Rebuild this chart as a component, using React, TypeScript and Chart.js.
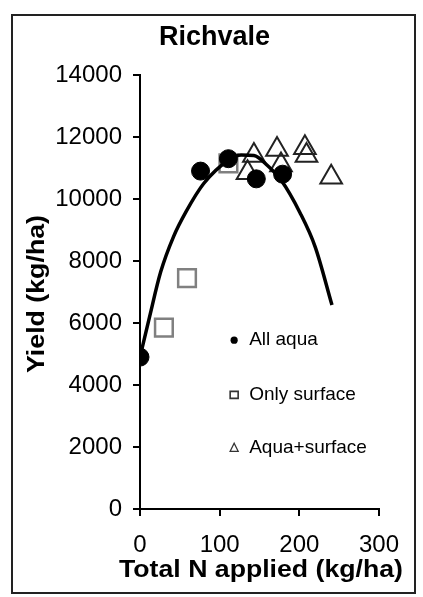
import React, { useEffect, useRef } from 'react';
import { Chart, registerables } from 'chart.js';

Chart.register(...registerables);

// ---- Data ----
const CHART_TITLE = 'Richvale';
const X_TITLE = 'Total N applied (kg/ha)';
const Y_TITLE = 'Yield (kg/ha)';

const xTicks = [0, 100, 200, 300];
const yTicks = [0, 2000, 4000, 6000, 8000, 10000, 12000, 14000];

const allAquaLabel = 'All aqua';
const allAquaX = [0, 76, 111, 146, 179];
const allAquaY = [4900, 10900, 11300, 10650, 10800];

const onlySurfaceLabel = 'Only surface';
const onlySurfaceX = [30, 59, 111];
const onlySurfaceY = [5850, 7450, 11150];

const aquaSurfaceLabel = 'Aqua+surface';
const aquaSurfaceX = [135, 143, 172, 177, 207, 209, 240];
const aquaSurfaceY = [10850, 11400, 11600, 11100, 11650, 11400, 10700];

const fitX = [0, 12, 26, 42, 58, 80, 111, 127, 143, 160, 177, 201, 220, 241];
const fitY = [4900, 6200, 7650, 8780, 9600, 10500, 11250, 11420, 11400, 11080, 10610, 9550, 8450, 6580];

const legendOrder = [allAquaLabel, onlySurfaceLabel, aquaSurfaceLabel];

const FONT = '"Liberation Sans", Arial, sans-serif';

const toPoints = (xs: number[], ys: number[]) => xs.map((x, i) => ({ x, y: ys[i] }));

// Draws text stretched along its baseline to a given length.
function drawStretched(ctx: any, text: string, cx: number, cy: number, length: number, rotate: number) {
  ctx.save();
  ctx.translate(cx, cy);
  ctx.rotate(rotate);
  const w = ctx.measureText(text).width;
  ctx.scale(length / w, 1);
  ctx.fillText(text, 0, 0);
  ctx.restore();
}

const titlesPlugin = {
  id: 'customTitles',
  afterDraw(chart: any) {
    const ctx = chart.ctx;
    const a = chart.chartArea;
    ctx.save();
    ctx.fillStyle = '#000';
    ctx.textAlign = 'center';
    ctx.textBaseline = 'middle';
    ctx.font = `bold 27px ${FONT}`;
    ctx.fillText(CHART_TITLE, chart.width / 2 + 1, 22);
    ctx.font = `bold 24px ${FONT}`;
    drawStretched(ctx, X_TITLE, (a.left + a.right) / 2 + 1.5, chart.height - 22, 284, 0);
    drawStretched(ctx, Y_TITLE, 24, (a.top + a.bottom) / 2 + 2, 158, -Math.PI / 2);
    ctx.restore();
  },
};

const legendPlugin = {
  id: 'insideLegend',
  afterDraw(chart: any) {
    const ctx = chart.ctx;
    const area = chart.chartArea;
    const items = legendOrder
      .map((l) => chart.data.datasets.find((d: any) => d.label === l))
      .filter(Boolean);
    const rows = [0.611, 0.737, 0.859];
    const mx = area.left + 0.394 * (area.right - area.left);
    ctx.save();
    ctx.font = `19px ${FONT}`;
    ctx.textAlign = 'left';
    ctx.textBaseline = 'middle';
    items.forEach((d: any, i: number) => {
      const my = area.top + rows[i] * (area.bottom - area.top);
      ctx.beginPath();
      if (d.pointStyle === 'circle') {
        ctx.fillStyle = '#000';
        ctx.arc(mx, my, 3.6, 0, Math.PI * 2);
        ctx.fill();
      } else if (d.pointStyle === 'rect') {
        ctx.strokeStyle = '#333';
        ctx.lineWidth = 1.6;
        ctx.rect(mx - 4, my - 3.5, 8, 7);
        ctx.stroke();
      } else {
        ctx.strokeStyle = '#333';
        ctx.lineWidth = 1.3;
        ctx.moveTo(mx, my - 4.5);
        ctx.lineTo(mx + 4, my + 3.5);
        ctx.lineTo(mx - 4, my + 3.5);
        ctx.closePath();
        ctx.stroke();
      }
      ctx.fillStyle = '#000';
      ctx.fillText(d.label, mx + 15, my);
    });
    ctx.restore();
  },
};

export default function App() {
  const canvasRef = useRef<HTMLCanvasElement | null>(null);

  useEffect(() => {
    if (!canvasRef.current) return;
    Chart.defaults.font.family = FONT;
    Chart.defaults.color = '#000';

    const chart = new Chart(canvasRef.current, {
      type: 'scatter',
      data: {
        datasets: [
          {
            label: allAquaLabel,
            data: toPoints(allAquaX, allAquaY),
            pointStyle: 'circle',
            pointRadius: 9,
            backgroundColor: '#000',
            borderColor: '#000',
            borderWidth: 1,
          } as any,
          {
            label: 'fit',
            data: toPoints(fitX, fitY),
            showLine: true,
            pointRadius: 0,
            borderColor: '#000',
            borderWidth: 3.5,
            cubicInterpolationMode: 'monotone',
            fill: false,
          } as any,
          {
            label: aquaSurfaceLabel,
            data: toPoints(aquaSurfaceX, aquaSurfaceY),
            pointStyle: 'triangle',
            pointRadius: 12.5,
            backgroundColor: 'rgba(255,255,255,0)',
            borderColor: '#222',
            borderWidth: 2,
          } as any,
          {
            label: onlySurfaceLabel,
            data: toPoints(onlySurfaceX, onlySurfaceY),
            pointStyle: 'rect',
            pointRadius: 12.5,
            backgroundColor: 'rgba(255,255,255,0)',
            borderColor: '#808080',
            borderWidth: 2.5,
          } as any,
        ],
      },
      options: {
        animation: false,
        responsive: false,
        events: [],
        layout: { padding: { top: 59, right: 25, left: 0, bottom: 0 } },
        plugins: {
          legend: { display: false },
          title: { display: false },
          tooltip: { enabled: false },
        },
        scales: {
          x: {
            type: 'linear',
            min: xTicks[0],
            max: xTicks[xTicks.length - 1],
            ticks: {
              stepSize: xTicks[1] - xTicks[0],
              padding: 15,
              color: '#000',
              font: { size: 24 },
              callback: (v: any) => String(v),
            },
            grid: { drawOnChartArea: false, drawTicks: true, tickLength: 7, color: '#000', lineWidth: 2 },
            border: { display: true, color: '#000', width: 2 },
            title: { display: false },
            afterFit: (scale: any) => {
              scale.height = 83;
            },
          },
          y: {
            type: 'linear',
            min: yTicks[0],
            max: yTicks[yTicks.length - 1],
            ticks: {
              stepSize: yTicks[1] - yTicks[0],
              padding: 11,
              color: '#000',
              font: { size: 24 },
              callback: (v: any) => String(v),
            },
            grid: { drawOnChartArea: false, drawTicks: true, tickLength: 7, color: '#000', lineWidth: 2 },
            border: { display: true, color: '#000', width: 2 },
            title: { display: false },
            afterFit: (scale: any) => {
              scale.width = 127;
            },
          },
        },
      } as any,
      plugins: [titlesPlugin, legendPlugin],
    });
    return () => chart.destroy();
  }, []);

  return (
    <div
      style={{
        position: 'absolute',
        left: 11,
        top: 14,
        width: 405,
        height: 580,
        border: '2px solid #222',
        boxSizing: 'border-box',
        background: '#fff',
      }}
    >
      <canvas ref={canvasRef} width={401} height={576} style={{ display: 'block', width: 401, height: 576 }} />
    </div>
  );
}
